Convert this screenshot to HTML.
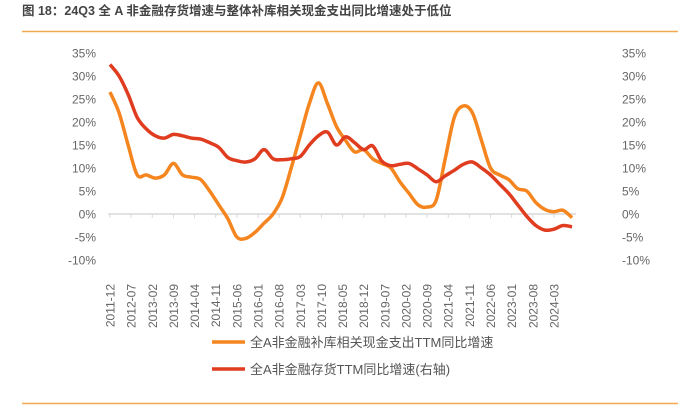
<!DOCTYPE html>
<html><head><meta charset="utf-8"><style>
body{margin:0;width:678px;height:407px;background:#fff;overflow:hidden;font-family:"Liberation Sans","Noto Sans CJK SC",sans-serif}
</style></head><body>
<svg width="678" height="407" font-family="Liberation Sans, Noto Sans CJK SC, sans-serif">
<text x="22" y="15" font-size="12.5" font-weight="bold" fill="#444">图 18：24Q3 全 A 非金融存货增速与整体补库相关现金支出同比增速处于低位</text>
<line x1="22" y1="31.5" x2="678" y2="31.5" stroke="#F2A950" stroke-width="1.5"/>
<line x1="22" y1="403.5" x2="678" y2="403.5" stroke="#F2A950" stroke-width="1.5"/>
<g id="axes"></g>
<g id="series"></g>
<g>
<line x1="212" y1="342" x2="245" y2="342" stroke="#F5861F" stroke-width="3.5"/>
<text x="250" y="347" font-size="13" fill="#555">全A非金融补库相关现金支出TTM同比增速</text>
<line x1="212" y1="369" x2="245" y2="369" stroke="#E03C1F" stroke-width="3.5"/>
<text x="250" y="374" font-size="13" fill="#555">全A非金融存货TTM同比增速(右轴)</text>
</g>
</svg>
<script>
const tickLabels=["2011-12","2012-07","2013-02","2013-09","2014-04","2014-11","2015-06","2016-01","2016-08","2017-03","2017-10","2018-05","2018-12","2019-07","2020-02","2020-09","2021-04","2021-11","2022-06","2023-01","2023-08","2024-03"];
const yTicks=[35,30,25,20,15,10,5,0,-5,-10];
const capex=[26.5,22,15,8.5,8.5,7.8,8.5,11,8.5,8,7.5,5,2,-1,-5,-5.3,-4,-2,0,3.5,10,17,24,28.5,24,19,16,13.5,14,12,11,10,7,4.5,2,1.5,3,12,21,23.5,22,16,10,8.5,7.5,5.5,5,2.5,1,0.5,0.8,-0.8];
const inventory=[32.5,30,26,21,18.5,17,16.5,17.3,17,16.5,16.3,15.5,14.5,12.3,11.6,11.3,12,14,12,11.8,12,12.5,15,17,17.8,15,16.8,15.5,14,14.8,11.5,10.5,10.8,11,9.8,8.5,7,8.3,9.5,10.8,11.3,10,8.5,6.5,4.5,2,-0.5,-2.5,-3.5,-3.3,-2.5,-2.8];
const NS="http://www.w3.org/2000/svg";
const xm=m=>110+m*3.02;
const yv=v=>214-v*4.6;
function mk(tag,attrs,parent){const e=document.createElementNS(NS,tag);for(const k in attrs)e.setAttribute(k,attrs[k]);parent.appendChild(e);return e;}
const ax=document.getElementById('axes');
const zl=mk('line',{x1:108,x2:576,y1:yv(0),y2:yv(0),stroke:'#d9d9d9','stroke-width':1.5},ax);


yTicks.forEach(v=>{
 const t=mk('text',{x:96,y:yv(v)+4.5,'font-size':12,fill:'#666','text-anchor':'end'},ax);t.textContent=v+'%';
 
 
 const r=mk('text',{x:622,y:yv(v)+4.5,'font-size':12,fill:'#666'},ax);r.textContent=v+'%';
 
 
});
tickLabels.forEach((s,i)=>{
 const x=xm(i*7);
 const tk=mk('line',{x1:x,x2:x,y1:yv(0),y2:yv(0)+4,stroke:'#d9d9d9'},ax);
 
 
 const t=mk('text',{x:0,y:0,'font-size':12,fill:'#666','text-anchor':'end',transform:`translate(${x+4.5},284) rotate(-90)`},ax);t.textContent=s;
 
 
});
function smooth(pts){let d=`M${pts[0][0]},${pts[0][1]}`;for(let i=0;i<pts.length-1;i++){const p0=pts[i-1]||pts[i],p1=pts[i],p2=pts[i+1],p3=pts[i+2]||p2;d+=` C${p1[0]+(p2[0]-p0[0])/6},${p1[1]+(p2[1]-p0[1])/6} ${p2[0]-(p3[0]-p1[0])/6},${p2[1]-(p3[1]-p1[1])/6} ${p2[0]},${p2[1]}`;}return d;}
const sg=document.getElementById('series');
const p1=mk('path',{d:smooth(capex.map((v,i)=>[xm(i*3),yv(v)])),fill:'none',stroke:'#F5861F','stroke-width':3.5,'stroke-linejoin':'round'},sg);


const p2=mk('path',{d:smooth(inventory.map((v,i)=>[xm(i*3),yv(v)])),fill:'none',stroke:'#E03C1F','stroke-width':3.5,'stroke-linejoin':'round'},sg);


</script>
</body></html>
